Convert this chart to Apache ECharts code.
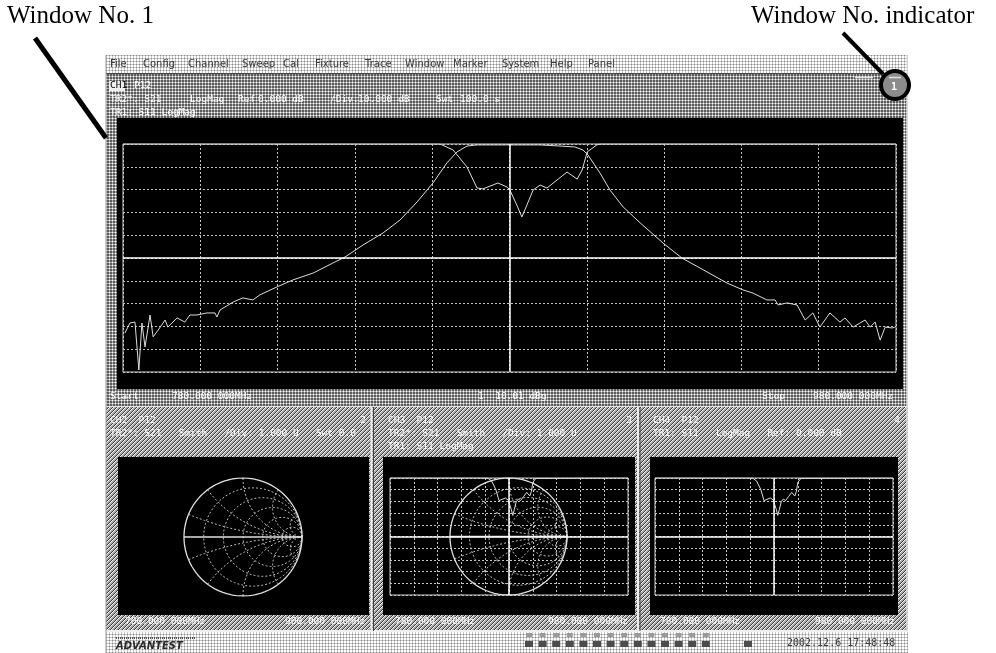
<!DOCTYPE html>
<html>
<head>
<meta charset="utf-8">
<script src="https://cdn.jsdelivr.net/npm/echarts@6/dist/echarts.min.js"></script>
<style>
  html, body { margin: 0; padding: 0; background: #fff; }
  #chart { width: 996px; height: 653px; }
</style>
</head>
<body>
<div id="chart"></div>
<script>
// ---- Measured traces (frequency in MHz, level in dB) ----
const s21Freq = [780.5, 781.8, 783.1, 784.1, 784.9, 785.7, 787.0, 787.8, 789.1, 790.9, 791.6, 794.0, 796.0, 797.3, 799.1,
  801.7, 803.8, 804.3, 805.1, 808.5, 811.0, 813.6, 815.4, 819.8, 824.0, 829.2, 834.3, 837.4, 842.1, 847.3, 851.7, 856.1,
  860.2, 863.8, 866.4, 869.0, 871.6, 877.5, 882.7, 887.9, 893.1, 896.9, 899.0, 900.3, 903.4, 906.0, 909.4, 913.8, 919.7,
  924.6, 931.1, 936.3, 940.4, 943.0, 946.6, 948.7, 949.5, 951.8, 954.4, 956.5, 958.5, 960.3, 962.9, 965.5, 966.8, 968.9,
  970.7, 972.0, 973.3, 974.6, 975.9, 977.2, 979.0, 979.7];
const s21Db = [-82.9, -78.5, -78.1, -99.1, -78.5, -89.0, -75.0, -84.6, -81.6, -77.2, -80.3, -76.3, -78.1, -75.0, -75.0,
  -74.1, -74.1, -75.9, -72.8, -69.3, -67.5, -68.4, -66.2, -62.7, -59.6, -56.6, -52.2, -49.6, -44.3, -39.0, -33.3, -25.4,
  -17.1, -8.3, -3.5, -0.9, -0.4, -0.4, -0.4, -0.4, -0.9, -1.3, -2.6, -4.8, -12.7, -20.2, -27.6, -34.6, -43.4,
  -50.0, -56.1, -61.0, -64.0, -65.4, -68.4, -68.4, -70.6, -69.7, -70.6, -77.2, -74.1, -80.3, -74.1, -78.1, -76.3, -80.3,
  -78.5, -77.2, -80.3, -78.1, -86.0, -80.3, -80.7, -80.3];
const s11Freq = [780, 862.0, 865.4, 869.0, 871.6, 873.1, 877.0, 879.4, 880.1, 881.9, 883.2, 884.5, 886.1, 887.9,
  889.7, 892.3, 894.9, 897.5, 898.8, 900.1, 902.6, 903.4, 980];
const s11Db = [0, 0, -2.6, -10.1, -19.3, -19.7, -17.1, -18.9, -20.2, -26.8, -32.0, -26.8, -20.2, -18.0,
  -19.3, -15.8, -12.3, -15.4, -11.4, -3.5, -0.4, 0, 0];

// ---- Sweep / scale settings ----
const sweepStart = 780, sweepStop = 980, freqDiv = 20;
const refLevel = 0, dbPerDiv = 10, divisions = 10;

// ---- Smith chart grid values ----
const smithResistance = [0.2, 0.5, 1, 2, 5];
const smithReactance = [0.2, 0.5, 1, 2, 5];

// ---- Screen texts ----
const menuItems = ['File', 'Config', 'Channel', 'Sweep', 'Cal', 'Fixture', 'Trace', 'Window', 'Marker', 'System', 'Help', 'Panel'];
const ch1Trace2 = ['TR2*: S21', 'LogMag', 'Ref', '0.000 dB', '/Div:', '10.000 dB', 'Swt', '100.0 s'];
const ch1Trace1 = 'TR1: S11 LogMag';
const ch1Footer = ['Start', '780.000 000MHz', '1  10.01 dBg', 'Stop', '980.000 000MHz'];
const subWindows = [
  { title: 'CH2  P12', no: '2', lines: ['TR2*: S21   Smith   /Div: 1.000 U   Swt 0.0'], start: '700.000 000MHz', stop: '900.000 000MHz' },
  { title: 'CH3  P12', no: '3', lines: ['TR2*: S21   Smith   /Div: 1.000 U', 'TR1: S11 LogMag'], start: '780.000 000MHz', stop: '980.000 000MHz' },
  { title: 'CH4  P12', no: '4', lines: ['TR1: S11   LogMag   Ref: 0.000 dB'], start: '780.000 000MHz', stop: '980.000 000MHz' }
];
const brandText = 'ADVANTEST';
const dateText = '2002.12.6 17:48:48';
const calloutLeft = 'Window No. 1';
const calloutRight = 'Window No. indicator';

// ---------------------------------------------------------------
function zip(a, b) { return a.map((v, i) => [v, b[i]]); }

function pattern(size, paint) {
  const c = document.createElement('canvas');
  c.width = c.height = size;
  const g = c.getContext('2d');
  paint(g);
  return { image: c, repeat: 'repeat' };
}
function px(g, x, y, col) { g.fillStyle = col; g.fillRect(x, y, 1, 1); }

const patLight = pattern(3, g => {
  g.fillStyle = '#ffffff'; g.fillRect(0, 0, 3, 3);
  px(g, 1, 1, '#8a8a8a');
  px(g, 0, 1, '#c8c8c8'); px(g, 2, 1, '#c8c8c8'); px(g, 1, 0, '#c8c8c8'); px(g, 1, 2, '#c8c8c8');
});
const patDark = pattern(3, g => {
  g.fillStyle = '#5c5c5c'; g.fillRect(0, 0, 3, 3);
  px(g, 1, 1, '#ffffff');
  px(g, 0, 1, '#b0b0b0'); px(g, 2, 1, '#b0b0b0'); px(g, 1, 0, '#b0b0b0'); px(g, 1, 2, '#b0b0b0');
});
const patHatch = pattern(4, g => {
  g.fillStyle = '#a8a8a8'; g.fillRect(0, 0, 4, 4);
  for (let i = 0; i < 4; i++) { px(g, i, 3 - i, '#3c3c3c'); px(g, (i + 1) % 4, 3 - i, '#f4f4f4'); }
});

const monoFont = '"DejaVu Sans Mono", monospace';
function screenText(x, y, s, opt) {
  return {
    type: 'text', z: 60,
    style: Object.assign({
      x: x, y: y, text: s, font: '9.5px ' + monoFont, fill: '#ffffff',
      textVerticalAlign: 'middle', textAlign: 'left',
      shadowColor: '#000', shadowOffsetX: 1, shadowOffsetY: 1, shadowBlur: 0
    }, opt || {})
  };
}
function rect(x, y, w, h, fill, z, extra) {
  return Object.assign({ type: 'rect', z: z == null ? -10 : z, silent: true, shape: { x: x, y: y, width: w, height: h }, style: { fill: fill } }, extra || {});
}
function hline(x1, x2, y, col, w, z) {
  return { type: 'line', z: z == null ? -5 : z, silent: true, shape: { x1: x1, y1: y, x2: x2, y2: y }, style: { stroke: col, lineWidth: w } };
}
function vline(x, y1, y2, col, w, z) {
  return { type: 'line', z: z == null ? -5 : z, silent: true, shape: { x1: x, y1: y1, x2: x, y2: y2 }, style: { stroke: col, lineWidth: w } };
}

// ---- Smith chart grid lines built from the resistance / reactance values ----
function smithLines() {
  const lines = [];
  const circle = (cx, r) => {
    const pts = [];
    for (let i = 0; i <= 180; i++) { const t = i / 180 * 2 * Math.PI; pts.push([cx + r * Math.cos(t), r * Math.sin(t)]); }
    return pts;
  };
  smithResistance.forEach(r => lines.push({ pts: circle(r / (1 + r), 1 / (1 + r)), solid: false }));
  smithReactance.forEach(x => {
    [x, -x].forEach(xx => {
      const pts = [];
      for (let i = 0; i <= 120; i++) {
        const r = Math.pow(10, -3 + i / 120 * 6) - 0.001;
        const d = (r + 1) * (r + 1) + xx * xx;
        pts.push([(r * r + xx * xx - 1) / d, 2 * xx / d]);
      }
      lines.push({ pts: pts, solid: false });
    });
  });
  lines.push({ pts: circle(0, 1), solid: true });
  lines.push({ pts: [[-1, 0], [1, 0]], solid: true });
  return lines;
}

// ---- Grids ----
const grids = [
  { left: 123, top: 144, width: 773, height: 228 },   // CH1 log-mag
  { left: 184, top: 478, width: 118, height: 118 },   // CH2 Smith
  { left: 390, top: 478, width: 238, height: 117 },   // CH3 log-mag
  { left: 450, top: 478, width: 117, height: 117 },   // CH3 Smith
  { left: 655, top: 478, width: 238, height: 117 }    // CH4 log-mag
].map(g => Object.assign({ show: false, containLabel: false }, g));
[0, 2, 4].forEach(i => Object.assign(grids[i], { show: true, borderColor: '#d4d4d4', borderWidth: 1, backgroundColor: 'transparent' }));

const gridLine = { show: true, lineStyle: { color: '#c4c4c4', width: 1, type: [2, 2] } };
const xAxes = [], yAxes = [];
grids.forEach((g, i) => {
  const rectGrid = (i === 0 || i === 2 || i === 4);
  xAxes.push(rectGrid ? {
    type: 'value', gridIndex: i, min: sweepStart, max: sweepStop, interval: freqDiv,
    axisLine: { show: false }, axisTick: { show: false }, axisLabel: { show: false }, splitLine: gridLine
  } : { type: 'value', gridIndex: i, min: -1, max: 1, show: false });
  yAxes.push(rectGrid ? {
    type: 'value', gridIndex: i, min: refLevel - dbPerDiv * divisions, max: refLevel, interval: dbPerDiv,
    axisLine: { show: false }, axisTick: { show: false }, axisLabel: { show: false }, splitLine: gridLine
  } : { type: 'value', gridIndex: i, min: -1, max: 1, show: false });
});

const centreLines = {
  silent: true, symbol: 'none', label: { show: false },
  lineStyle: { color: '#ffffff', width: 1.5, type: 'solid' },
  data: [{ xAxis: (sweepStart + sweepStop) / 2 }, { yAxis: refLevel - dbPerDiv * divisions / 2 }]
};
const traceStyle = { color: '#dcdcdc', width: 1 };
const series = [
  { type: 'line', xAxisIndex: 0, yAxisIndex: 0, data: zip(s21Freq, s21Db), showSymbol: false, lineStyle: traceStyle, markLine: centreLines, z: 3 },
  { type: 'line', xAxisIndex: 0, yAxisIndex: 0, data: zip(s11Freq, s11Db), showSymbol: false, lineStyle: traceStyle, z: 3 },
  { type: 'line', xAxisIndex: 2, yAxisIndex: 2, data: zip(s11Freq, s11Db), showSymbol: false, lineStyle: traceStyle, markLine: centreLines, z: 3 },
  { type: 'line', xAxisIndex: 4, yAxisIndex: 4, data: zip(s11Freq, s11Db), showSymbol: false, lineStyle: traceStyle, markLine: centreLines, z: 3 }
];
[1, 3].forEach(ai => {
  smithLines().forEach(l => series.push({
    type: 'line', xAxisIndex: ai, yAxisIndex: ai, data: l.pts, showSymbol: false, silent: true,
    lineStyle: l.solid ? { color: '#e0e0e0', width: 1.3 } : { color: '#bcbcbc', width: 1, type: [2, 2] }, z: 2
  }));
});

// ---- Screen furniture ----
const g = [];
g.push(rect(106, 55, 802, 18, patLight));
g.push(rect(106, 73, 802, 334, patDark));
g.push(hline(106, 908, 73.5, '#4a4a4a', 1));
g.push(rect(117, 118, 786, 271, '#000', -8));
g.push(rect(106, 407, 802, 224, patHatch));
g.push(hline(106, 908, 406.5, '#e8e8e8', 1));
g.push(rect(106, 631, 802, 22, patLight));
g.push(hline(106, 908, 631, '#f0f0f0', 2));
g.push(vline(907, 55, 631, '#e0e0e0', 1.5));
g.push(vline(106, 55, 653, '#9a9a9a', 1));
[371.5, 638].forEach(x => { g.push(vline(x, 407, 631, '#ececec', 2)); g.push(vline(x + 2, 407, 631, '#404040', 1)); });
g.push(rect(118, 457, 251, 158, '#000', -8));
g.push(rect(383, 457, 252, 158, '#000', -8));
g.push(rect(650, 457, 248, 158, '#000', -8));

// menu
const menuX = [110, 143, 188, 242, 283, 315, 365, 405, 453, 502, 550, 588];
menuItems.forEach((m, i) => g.push(screenText(menuX[i], 64.5, m, { fill: '#3a3a3a', font: '10px "DejaVu Sans"', shadowColor: '#ffffff' })));

// CH1 header
g.push(rect(109, 81, 16, 10, '#f0f0f0', 55));
g.push(screenText(110, 86, 'CH1', { fill: '#000', shadowOffsetX: 0, shadowOffsetY: 0, shadowColor: 'rgba(0,0,0,0)' }));
g.push(screenText(134, 86, 'P12'));
const ch1TrX = [110, 190, 238, 258, 330, 358, 436, 460];
ch1Trace2.forEach((t, i) => g.push(screenText(ch1TrX[i], 99.5, t)));
g.push(screenText(110, 112.5, ch1Trace1));
// CH1 footer
g.push(screenText(110, 397, ch1Footer[0]));
g.push(screenText(172, 397, ch1Footer[1]));
g.push(screenText(478, 397, ch1Footer[2]));
g.push(screenText(762, 397, ch1Footer[3]));
g.push(screenText(813, 397, ch1Footer[4]));

// sub windows
const subX = [[110, 366, 125, 285], [388, 632, 395, 548], [653, 900, 660, 815]];
subWindows.forEach((w, i) => {
  const [x0, xn, xs, xe] = subX[i];
  g.push(screenText(x0, 421, w.title));
  g.push(screenText(xn, 421, w.no, { textAlign: 'right' }));
  w.lines.forEach((l, j) => g.push(screenText(x0, 434 + j * 13, l)));
  g.push(screenText(xs, 622, w.start));
  g.push(screenText(xe, 622, w.stop));
});

// status bar
g.push({ type: 'line', z: 55, silent: true, shape: { x1: 116, y1: 638, x2: 196, y2: 638 }, style: { stroke: '#555', lineWidth: 2, lineDash: [1, 1] } });
g.push(screenText(116, 646, brandText, { fill: '#2a2a2a', font: 'italic bold 10px "DejaVu Sans"', shadowColor: '#ffffff' }));
for (let i = 0; i < 14; i++) {
  g.push(rect(525 + i * 13.6, 641, 8, 6, '#4c4c4c', 55));
  g.push(rect(526 + i * 13.6, 633, 6, 4, '#9a9a9a', 55));
}
g.push(rect(744, 641, 8, 6, '#4c4c4c', 55));
g.push(screenText(787, 643, dateText, { fill: '#3a3a3a', font: '10px ' + monoFont, shadowColor: '#ffffff' }));

// callouts
g.push({ type: 'text', z: 80, style: { x: 7, y: 29, text: calloutLeft, font: '25px "Liberation Serif", "Times New Roman", serif', fill: '#000', textVerticalAlign: 'bottom' } });
g.push({ type: 'text', z: 80, style: { x: 751, y: 29, text: calloutRight, font: '25px "Liberation Serif", "Times New Roman", serif', fill: '#000', textVerticalAlign: 'bottom' } });
g.push({ type: 'line', z: 80, silent: true, shape: { x1: 35, y1: 38, x2: 106, y2: 138 }, style: { stroke: '#000', lineWidth: 5 } });
g.push({ type: 'line', z: 80, silent: true, shape: { x1: 843, y1: 33, x2: 883, y2: 74 }, style: { stroke: '#000', lineWidth: 4 } });
// circled window number indicator
g.push({ type: 'circle', z: 90, silent: true, shape: { cx: 895, cy: 85, r: 14 }, style: { fill: '#8c8c8c', stroke: '#000', lineWidth: 4 } });
g.push(hline(855, 873, 77.5, '#e0e0e0', 1.5, 95));
g.push(hline(889, 901, 77.5, '#e0e0e0', 1.5, 95));
g.push(Object.assign(screenText(891, 87, '1', { font: 'bold 10px ' + monoFont }), { z: 96 }));

const chart = echarts.init(document.getElementById('chart'), null, { renderer: 'canvas' });
chart.setOption({
  backgroundColor: '#ffffff',
  animation: false,
  grid: grids,
  xAxis: xAxes,
  yAxis: yAxes,
  series: series,
  graphic: { elements: g }
});
</script>
</body>
</html>
